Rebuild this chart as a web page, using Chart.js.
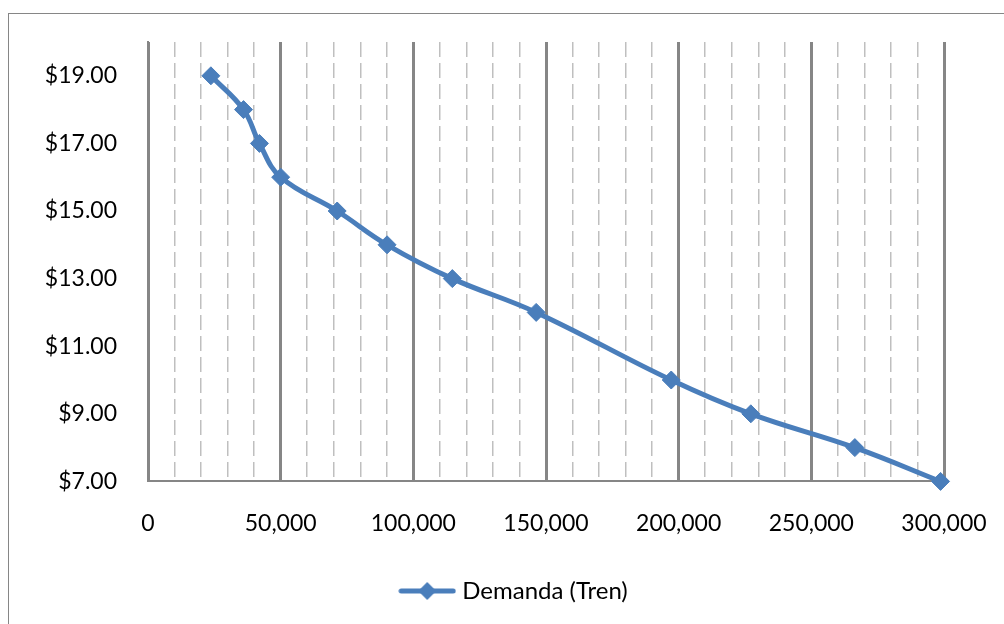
<!DOCTYPE html>
<html>
<head>
<meta charset="utf-8">
<script src="https://cdn.jsdelivr.net/npm/chart.js@4.4.1/dist/chart.umd.min.js"></script>
<style>
  html, body { margin: 0; padding: 0; background: #fff; overflow: hidden; }
  #frame { position: absolute; left: 8px; top: 13px; width: 1100px; height: 700px; border: 1.5px solid #868686; }
  #wrap { position: absolute; left: 0; top: 0; width: 1004px; height: 624px; }
</style>
</head>
<body>
<div id="frame"></div>
<div id="wrap"><canvas id="demanda" width="1004" height="624"></canvas></div>
<script>
// demanda del tren: cantidad (x) vs precio (y)
const cantidad = [23700, 36000, 42000, 50000, 71300, 90100, 114700, 146300, 197200, 227200, 266400, 298700];
const precio = [19, 18, 17, 16, 15, 14, 13, 12, 10, 9, 8, 7];
const yTicks = [7, 9, 11, 13, 15, 17, 19];
const serieLabel = 'Demanda (Tren)';

const azul = '#4A7EBB';
const fuente = 'Lato, "Open Sans", sans-serif';

// icono de leyenda: linea con rombo
function legendIcon() {
  let c = document.createElement('canvas');
  c.width = 58; c.height = 20;
  let ctx = c.getContext('2d');
  ctx.strokeStyle = azul;
  ctx.lineWidth = 5;
  ctx.lineCap = 'round';
  ctx.beginPath();
  ctx.moveTo(3, 10); ctx.lineTo(55, 10);
  ctx.stroke();
  ctx.fillStyle = azul;
  ctx.beginPath();
  ctx.moveTo(29, 1); ctx.lineTo(38, 10); ctx.lineTo(29, 19); ctx.lineTo(20, 10);
  ctx.closePath();
  ctx.fill();
  return c;
}
const icon = legendIcon();

function isMajor(ctx) {
  return ctx.tick && ctx.tick.value % 50000 === 0;
}

new Chart(document.getElementById('demanda'), {
  type: 'line',
  data: {
    datasets: [
      {
        label: serieLabel,
        data: cantidad.map((c, i) => ({x: c, y: precio[i]})),
        borderColor: azul,
        backgroundColor: azul,
        borderWidth: 5,
        tension: 0.4,
        clip: false,
        pointStyle: 'rectRot',
        pointRadius: 9,
        pointBorderWidth: 1,
        pointBackgroundColor: azul,
        pointBorderColor: azul
      }
    ]
  },
  options: {
    responsive: false,
    animation: false,
    devicePixelRatio: 1,
    layout: { padding: { left: 30, right: 2, top: 42, bottom: 11 } },
    plugins: {
      tooltip: { enabled: false },
      legend: {
        position: 'bottom',
        labels: {
          usePointStyle: true,
          pointStyleWidth: 46,
          color: '#000',
          font: { family: fuente, size: 24 },
          generateLabels: function(chart) {
            return [{ text: serieLabel, pointStyle: icon, fillStyle: azul, strokeStyle: azul, lineWidth: 0, datasetIndex: 0 }];
          }
        }
      }
    },
    scales: {
      x: {
        type: 'linear',
        min: 0,
        max: 300000,
        afterFit: function(scale) {
          scale.paddingLeft = 0;
          scale.paddingRight = 60;
          scale.height += 4;
        },
        ticks: {
          stepSize: 10000,
          autoSkip: false,
          maxRotation: 0,
          padding: 28,
          color: '#000',
          font: { family: fuente, size: 23 },
          callback: v => v % 50000 === 0 ? v.toLocaleString('en-US') : ''
        },
        grid: {
          drawTicks: false,
          color: ctx => isMajor(ctx) ? '#868686' : '#BFBFBF',
          lineWidth: ctx => isMajor(ctx) ? 3 : 1.5
        },
        border: {
          color: '#868686',
          width: 2,
          dash: ctx => (ctx.tick && !isMajor(ctx)) ? [15, 6] : []
        }
      },
      y: {
        min: 7,
        max: 20,
        afterFit: function(scale) {
          scale.width = 118;
          scale.paddingTop = 0;
          scale.paddingBottom = 0;
        },
        afterBuildTicks: function(scale) {
          scale.ticks = yTicks.map(v => ({value: v}));
        },
        ticks: {
          padding: 31,
          color: '#000',
          font: { family: fuente, size: 23 },
          callback: v => '$' + v.toFixed(2)
        },
        grid: { display: false, drawTicks: false },
        border: { color: '#868686', width: 2 }
      }
    }
  }
});
</script>
</body>
</html>
